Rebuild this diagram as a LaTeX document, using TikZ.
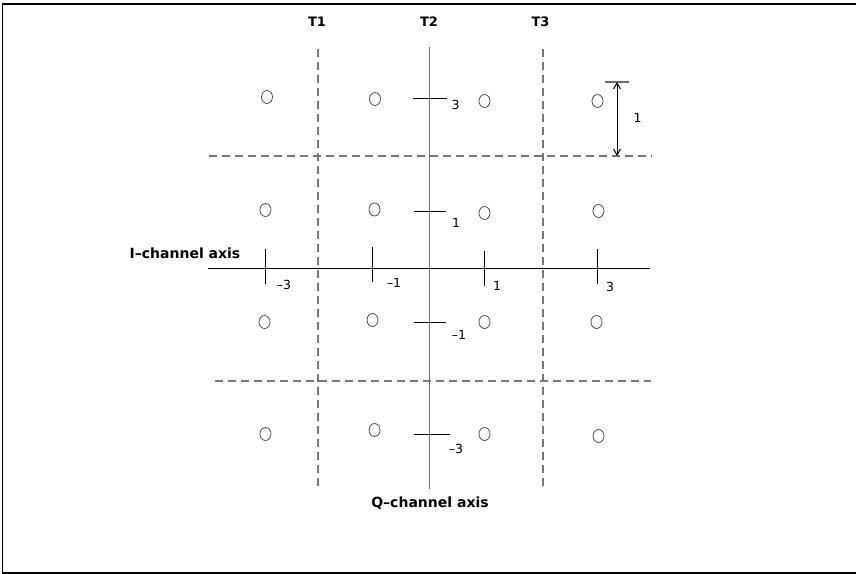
\documentclass[tikz,border=0pt]{standalone}
\usepackage{fontspec}
\setmainfont{DejaVu Sans}
\usetikzlibrary{shapes.geometric,arrows.meta}
\definecolor{axgray}{RGB}{110,110,110}
\definecolor{dgray}{RGB}{120,120,120}
\tikzset{
  pt/.style={draw=black!70, ellipse, line width=0.8bp, minimum width=11bp, minimum height=13bp, inner sep=0pt},
  dsh/.style={draw=dgray, line width=1.1bp, dash pattern=on 8bp off 5bp},
  tk/.style={draw=black, line width=1bp},
  blab/.style={font=\bfseries\fontsize{14bp}{16bp}\selectfont, inner sep=0pt},
  tlab/.style={font=\bfseries\fontsize{13bp}{15bp}\selectfont, inner sep=0pt},
  num/.style={font=\fontsize{12.5bp}{14bp}\selectfont, inner sep=0pt},
}
\begin{document}
\begin{tikzpicture}[x=1bp,y=-1bp]
\useasboundingbox (0,0) rectangle (856,574);
% border
\coordinate (b1) at (856,4); \coordinate (b2) at (2.5,4); \coordinate (b3) at (2.5,573); \coordinate (b4) at (856,573);
\draw[line width=1.5bp] (b1) -- (b2) -- (b3) -- (b4);
% dashed thresholds
\coordinate (t1a) at (318,49); \coordinate (t1b) at (318,487);
\coordinate (t3a) at (543,49); \coordinate (t3b) at (543,490);
\coordinate (h1a) at (209,156); \coordinate (h1b) at (652,156);
\coordinate (h2a) at (215,381); \coordinate (h2b) at (651,381);
\draw[dsh] (t1a) -- (t1b);
\draw[dsh] (t3a) -- (t3b);
\draw[dsh] (h1a) -- (h1b);
\draw[dsh] (h2a) -- (h2b);
% axes
\coordinate (qa) at (429.5,47); \coordinate (qb) at (429.5,489);
\coordinate (ia) at (208,268.5); \coordinate (ib) at (650,268.5);
\draw[draw=axgray, line width=1.5bp] (qa) -- (qb);
\draw[line width=1.1bp] (ia) -- (ib);
% ticks on I axis
\foreach \n/\x/\ya/\yb in {m3/265.5/249/284, m1/372.5/247/282, p1/484/251/286, p3/597/249/284}{
  \coordinate (ti\n a) at (\x,\ya); \coordinate (ti\n b) at (\x,\yb);
  \draw[tk] (ti\n a) -- (ti\n b);
}
% ticks on Q axis
\foreach \n/\y/\xa/\xb in {p3/98.5/413/447, p1/212/414/446, m1/322/414/446, m3/434/414/450}{
  \coordinate (tq\n a) at (\xa,\y); \coordinate (tq\n b) at (\xb,\y);
  \draw[tk] (tq\n a) -- (tq\n b);
}
% tick labels
\node[num] (li1) at (284,284.5) {–3};
\node[num] (li2) at (394,282.5) {–1};
\node[num] (li3) at (497,285.5) {1};
\node[num] (li4) at (610,286.5) {3};
\node[num] (lq1) at (455.5,104.5) {3};
\node[num] (lq2) at (456,222.5) {1};
\node[num] (lq3) at (459,334.5) {–1};
\node[num] (lq4) at (456,449) {–3};
% constellation points
\node[pt] (c11) at (267,97) {};
\node[pt] (c12) at (375,99) {};
\node[pt] (c13) at (484.5,101) {};
\node[pt] (c14) at (597.5,101) {};
\node[pt] (c21) at (265.5,210) {};
\node[pt] (c22) at (374.5,209.5) {};
\node[pt] (c23) at (484.5,213) {};
\node[pt] (c24) at (598.5,211) {};
\node[pt] (c31) at (264.5,322) {};
\node[pt] (c32) at (372.5,320) {};
\node[pt] (c33) at (484.5,322) {};
\node[pt] (c34) at (596.5,322) {};
\node[pt] (c41) at (265.5,434) {};
\node[pt] (c42) at (374.5,430) {};
\node[pt] (c43) at (484.5,434) {};
\node[pt] (c44) at (598.5,436) {};
% distance marker
\coordinate (bara) at (605,82); \coordinate (barb) at (629,82);
\draw[draw=axgray, line width=1.3bp] (bara) -- (barb);
\coordinate (arA) at (617,82); \coordinate (arB) at (617,156);
\draw[line width=1bp, {Straight Barb[length=6bp,width=7bp]}-{Straight Barb[length=6bp,width=7bp]}] (arA) -- (arB);
\node[num] (ld) at (637.5,117.5) {1};
% labels
\node[tlab] (T1) at (317,22) {T1};
\node[tlab] (T2) at (429,22) {T2};
\node[tlab] (T3) at (540.5,22) {T3};
\node[blab] (ilab) at (185,253) {I–channel axis};
\node[blab] (qlab) at (430,503) {Q–channel axis};
\end{tikzpicture}
\end{document}
